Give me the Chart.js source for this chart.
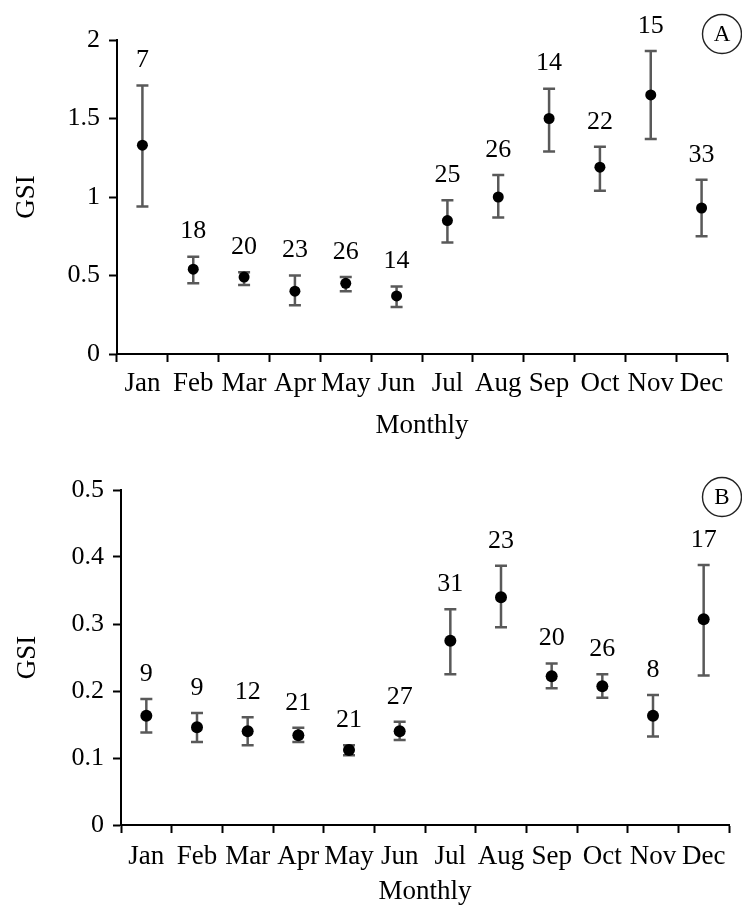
<!DOCTYPE html>
<html>
<head>
<meta charset="utf-8">
<script src="https://cdn.jsdelivr.net/npm/chart.js@4.4.1/dist/chart.umd.min.js"></script>
<style>
  html, body { margin: 0; padding: 0; background: #fff; }
  .panel { position: absolute; left: 0; width: 742px; height: 454px; }
  canvas { display: block; }
</style>
</head>
<body>
<div class="panel" style="top:0"><canvas id="chartA" width="742" height="454"></canvas></div>
<div class="panel" style="top:454px"><canvas id="chartB" width="742" height="454"></canvas></div>
<script>
// ---- Data ----
const months = ["Jan","Feb","Mar","Apr","May","Jun","Jul","Aug","Sep","Oct","Nov","Dec"];

const meanA = [1.33, 0.54, 0.49, 0.40, 0.45, 0.37, 0.85, 1.00, 1.50, 1.19, 1.65, 0.93];
const lowA  = [0.94, 0.45, 0.44, 0.31, 0.40, 0.30, 0.71, 0.87, 1.29, 1.04, 1.37, 0.75];
const highA = [1.71, 0.62, 0.52, 0.50, 0.49, 0.43, 0.98, 1.14, 1.69, 1.32, 1.93, 1.11];
const nA    = [7, 18, 20, 23, 26, 14, 25, 26, 14, 22, 15, 33];
const yTicksA = [0, 0.5, 1, 1.5, 2];

const meanB = [0.163, 0.146, 0.140, 0.134, 0.112, 0.140, 0.275, 0.340, 0.222, 0.207, 0.163, 0.307];
const lowB  = [0.138, 0.124, 0.119, 0.124, 0.104, 0.127, 0.225, 0.295, 0.204, 0.190, 0.132, 0.223];
const highB = [0.188, 0.167, 0.161, 0.145, 0.119, 0.154, 0.322, 0.387, 0.241, 0.225, 0.194, 0.388];
const nB    = [9, 9, 12, 21, 21, 27, 31, 23, 20, 26, 8, 17];
const yTicksB = [0, 0.1, 0.2, 0.3, 0.4, 0.5];

// ---- Styling ----
const FONT = "'Liberation Serif', 'Times New Roman', serif";
Chart.defaults.font.family = FONT;
Chart.defaults.color = '#000';

const errorBarPlugin = {
  id: 'errorBars',
  beforeDatasetsDraw(chart, args, opts) {
    const ctx = chart.ctx;
    const x = chart.scales.x, y = chart.scales.y;
    ctx.save();
    ctx.strokeStyle = '#595959';
    ctx.lineWidth = 2.5;
    opts.low.forEach((lo, i) => {
      const hi = opts.high[i];
      const px = x.getPixelForValue(i);
      const pLo = y.getPixelForValue(lo);
      const pHi = y.getPixelForValue(hi);
      const cap = 6;
      ctx.beginPath();
      ctx.moveTo(px, pLo); ctx.lineTo(px, pHi);
      ctx.moveTo(px - cap, pLo); ctx.lineTo(px + cap, pLo);
      ctx.moveTo(px - cap, pHi); ctx.lineTo(px + cap, pHi);
      ctx.stroke();
    });
    ctx.restore();
  },
  afterDraw(chart, args, opts) {
    const ctx = chart.ctx;
    const x = chart.scales.x, y = chart.scales.y;
    ctx.save();
    ctx.fillStyle = '#000';
    ctx.font = "26px " + FONT;
    ctx.textAlign = 'center';
    ctx.textBaseline = 'middle';
    opts.counts.forEach((n, i) => {
      const px = x.getPixelForValue(i);
      const pHi = y.getPixelForValue(opts.high[i]);
      ctx.fillText(String(n), px, pHi - 25);
    });
    // panel letter in circle
    ctx.beginPath();
    ctx.strokeStyle = '#222';
    ctx.lineWidth = 1.4;
    ctx.arc(opts.circle.x, opts.circle.y, 19.5, 0, Math.PI * 2);
    ctx.stroke();
    ctx.font = "23px " + FONT;
    ctx.fillText(opts.letter, opts.circle.x, opts.circle.y + 1);
    ctx.restore();
  }
};

function makeChart(id, mean, low, high, counts, ticks, cfg) {
  return new Chart(document.getElementById(id), {
    type: 'line',
    data: {
      labels: months,
      datasets: [{
        data: mean,
        showLine: false,
        pointRadius: cfg.pointRadius,
        pointHoverRadius: cfg.pointRadius,
        pointBackgroundColor: '#000',
        pointBorderColor: '#000',
        pointBorderWidth: 0
      }]
    },
    options: {
      responsive: false,
      animation: false,
      devicePixelRatio: 1,
      layout: { padding: { top: cfg.padTop, right: cfg.padRight, left: 0, bottom: 0 } },
      plugins: {
        legend: { display: false },
        tooltip: { enabled: false },
        errorBars: { low: low, high: high, counts: counts, letter: cfg.letter, circle: cfg.circle }
      },
      scales: {
        x: {
          type: 'category',
          offset: true,
          grid: { display: true, offset: true, drawOnChartArea: false, drawTicks: true,
                  tickLength: 8, tickColor: '#000', tickWidth: 2 },
          border: { display: true, color: '#000', width: 2 },
          ticks: { font: { size: 27 }, color: '#000', padding: cfg.xTickPad, maxRotation: 0, autoSkip: false },
          title: { display: true, text: 'Monthly', font: { size: 27 }, color: '#000',
                   padding: { top: 0, bottom: cfg.xTitlePad } },
          afterFit(s) { s.height = cfg.xHeight; }
        },
        y: {
          min: 0, max: ticks[ticks.length - 1],
          afterBuildTicks(s) { s.ticks = ticks.map(v => ({ value: v })); },
          grid: { display: true, drawOnChartArea: false, drawTicks: true,
                  tickLength: 8, tickColor: '#000', tickWidth: 2 },
          border: { display: true, color: '#000', width: 2 },
          ticks: { font: { size: 26 }, color: '#000', padding: 9, callback: v => String(v) },
          title: { display: true, text: 'GSI', font: { size: 27 }, color: '#000',
                   padding: { top: cfg.yTitlePad, bottom: 0 } },
          afterFit(s) { s.width = cfg.yWidth; }
        }
      }
    },
    plugins: [errorBarPlugin]
  });
}

makeChart('chartA', meanA, lowA, highA, nA, yTicksA, {
  letter: 'A', circle: { x: 722, y: 34 }, pointRadius: 5.5,
  padTop: 40, padRight: 15, xHeight: 100, yWidth: 117,
  xTickPad: 6, xTitlePad: 12, yTitlePad: 11
});
makeChart('chartB', meanB, lowB, highB, nB, yTicksB, {
  letter: 'B', circle: { x: 722, y: 43 }, pointRadius: 6,
  padTop: 36, padRight: 13, xHeight: 83, yWidth: 121,
  xTickPad: 8, xTitlePad: 0, yTitlePad: 12
});
</script>
</body>
</html>
